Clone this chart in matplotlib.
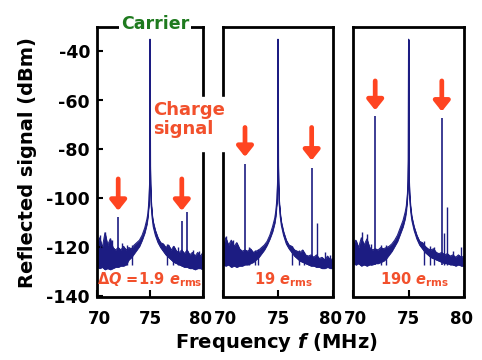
import matplotlib
matplotlib.use("Agg")
import matplotlib.pyplot as plt
from matplotlib.patches import Rectangle
from matplotlib.transforms import ScaledTranslation

plt.rcParams['font.family'] = ['DejaVu Sans']
plt.rcParams['font.weight'] = 'bold'
plt.rcParams['mathtext.fontset'] = 'custom'
plt.rcParams['mathtext.rm'] = 'DejaVu Sans:bold'
plt.rcParams['mathtext.bf'] = 'DejaVu Sans:bold'
plt.rcParams['mathtext.it'] = 'DejaVu Sans:italic:bold'

# ---------------- data ----------------
freq = [70.0, 70.25, 70.5, 70.75, 71.0, 71.25, 71.5, 71.75, 72.0, 72.25, 72.5, 72.75,
        73.0, 73.25, 73.5, 73.75, 74.0, 74.25, 74.5, 74.7, 74.8, 74.9, 74.95, 74.98,
        75.0, 75.02, 75.05, 75.1, 75.2, 75.3, 75.5, 75.75, 76.0, 76.25, 76.5, 76.75,
        77.0, 77.25, 77.5, 77.75, 78.0, 78.25, 78.5, 78.75, 79.0, 79.25, 79.5, 79.75, 80.0]

upper1 = [-119, -116, -120, -114, -119, -116.5, -120, -121, -120, -121, -119.5, -121,
          -120, -120.5, -119, -118, -117, -115, -112, -108.5, -106, -100.5, -94.5, -86.5,
          -35, -86.5, -94.5, -100.5, -106.5, -109.5, -113, -116, -118, -118.5, -120, -119,
          -121, -119.5, -121.5, -122, -121, -122.5, -121, -123, -122, -123.5, -122, -123.5, -122]
lower1 = [-128, -128.5, -128, -129, -128.5, -129, -128.5, -128, -128, -127.5, -127.5, -127,
          -125, -124, -122.5, -121, -119.5, -117, -114, -110.5, -107.5, -102, -96, -88,
          -35, -88, -96, -102.5, -108, -111.5, -115, -118, -120, -121.5, -123, -124,
          -125, -126, -126.5, -127, -127.5, -128, -128, -128.5, -128.5, -129, -128.5, -128.5, -129]

upper2 = [-120, -116, -119, -117, -119.5, -118, -120.5, -121.5, -121, -121.5, -120.5, -122,
          -121.5, -121, -120, -119, -117.5, -115, -111.5, -108, -105, -100, -94, -86,
          -35, -86, -94, -100.5, -106, -109.5, -113.5, -117, -119, -119.5, -121, -121.5,
          -122, -121, -123, -123.5, -123, -124, -123, -124.5, -124, -125, -123.5, -125, -124.5]
lower2 = [-127, -127.5, -127, -128, -127.5, -128, -127.5, -127.5, -127, -127, -126.5, -126,
          -125, -124, -122.5, -121, -119, -116.5, -113.5, -110, -107, -101.5, -95.5, -87.5,
          -35, -87.5, -95.5, -102, -107.5, -111, -115, -118.5, -120.5, -122, -123.5, -124.5,
          -125.5, -126, -126.5, -127, -127.5, -127.5, -128, -128, -128.5, -128.5, -128, -128.5, -128.5]

upper3 = [-119, -117, -120, -116, -119, -116.5, -120, -121, -120.5, -121, -120, -120.5,
          -120, -119.5, -118.5, -117, -115, -112, -109, -105.5, -103, -98, -92, -84,
          -35, -84, -92, -98.5, -104, -107.5, -111.5, -115, -117.5, -118, -119.5, -120.5,
          -121, -120.5, -122, -122.5, -122, -123, -122.5, -123.5, -123, -124, -123, -124, -123.5]
lower3 = [-126.5, -127, -126.5, -127.5, -127, -127.5, -127, -127, -126.5, -126.5, -126, -125.5,
          -124.5, -123, -121.5, -119.5, -117.5, -114.5, -111.5, -108, -105, -99.5, -93.5, -85.5,
          -35, -85.5, -93.5, -100, -105.5, -109, -113, -116.5, -119, -120.5, -122, -123,
          -124, -124.5, -125, -125.5, -126, -126.5, -126.5, -127, -127, -127.5, -127, -127.5, -127.5]

# small noise spikes (freq, top dBm)
spike_f1 = [70.3, 70.75, 71.2, 71.45, 72.4, 72.8, 73.3, 76.6, 77.2, 77.6, 79.1, 79.6]
spike_t1 = [-115, -113.5, -116, -117, -118, -119, -119, -118.5, -119.5, -120, -121, -121.5]
spike_f2 = [70.3, 70.95, 71.4, 72.4, 72.9, 73.2, 76.25, 76.9, 77.4, 78.5, 79.3, 79.7]
spike_t2 = [-115.5, -117, -119.5, -120, -121, -120.5, -119.5, -121, -122, -110, -122, -123]
spike_f3 = [70.3, 70.78, 71.23, 71.6, 72.5, 73.0, 76.37, 76.9, 77.3, 78.2, 78.44, 79.0, 79.7]
spike_t3 = [-117.5, -113.5, -114.5, -118.5, -119, -119, -117.5, -119.5, -120, -114, -103.5, -121.5, -120]

# charge-signal sidebands (freq, top dBm)
side_f1 = [72.0, 78.05, 78.5]
side_t1 = [-107.5, -109, -105.5]
side_f2 = [72.0, 78.06]
side_t2 = [-86, -87.5]
side_f3 = [72.0, 78.0]
side_t3 = [-66.5, -67.3]

labels = [r'$\mathit{\Delta Q}$ =1.9 $\mathit{e}_{\mathrm{rms}}$',
          r'19 $\mathit{e}_{\mathrm{rms}}$',
          r'190 $\mathit{e}_{\mathrm{rms}}$']

# arrows: (freq, tail, tip)
arrows1 = [(72.0, -92, -105), (78.0, -92, -105)]
arrows2 = [(72.0, -71, -83), (78.06, -71, -84.5)]
arrows3 = [(72.0, -52, -64), (78.0, -52, -64.5)]

yticks = [-40, -60, -80, -100, -120, -140]
xticks = [70, 75, 80]

# ---------------- drawing ----------------
navy = '#1c1c82'
red = '#ff4420'
txtred = '#f2502c'
green = '#1e7a1e'

W, H = 482, 360
fig = plt.figure(figsize=(W / 100, H / 100), dpi=100)
bottom = 1 - 296.5 / H
height = (296.5 - 27) / H
lefts = [97, 223, 353]
widths = [106, 110, 111]

panels = [
    (upper1, lower1, spike_f1, spike_t1, side_f1, side_t1, arrows1, 75.0),
    (upper2, lower2, spike_f2, spike_t2, side_f2, side_t2, arrows2, 75.45),
    (upper3, lower3, spike_f3, spike_t3, side_f3, side_t3, arrows3, 75.5),
]

for i, (up, lo, sf, st, bf, bt, arr, lx) in enumerate(panels):
    ax = fig.add_axes([lefts[i] / W, bottom, widths[i] / W, height])
    ax.fill_between(freq, lo, up, color=navy, lw=0.5)
    ax.plot(freq, up, color=navy, lw=0.7)
    ax.plot(freq, lo, color=navy, lw=0.7)
    ax.vlines(sf, -127, st, color=navy, lw=1.0)
    ax.vlines(bf, -127, bt, color=navy, lw=1.2)
    for (f, t0, t1) in arr:
        ax.annotate('', xy=(f, t1), xytext=(f, t0),
                    arrowprops=dict(arrowstyle='-|>,head_width=0.24,head_length=0.3',
                                    color=red, lw=3.4, mutation_scale=20,
                                    shrinkA=0, shrinkB=0))
    ax.text(lx, -133.3, labels[i], color=txtred, fontsize=10.5, ha='center', va='center')
    ax.set_xlim(70, 80)
    ax.set_ylim(-140, -30)
    for s in ax.spines.values():
        s.set_linewidth(2)
    ax.set_xticks(xticks)
    ax.set_xticklabels([str(v) for v in xticks], fontsize=12, fontweight='bold')
    ax.tick_params(axis='x', direction='in', length=5, width=1.5, pad=10)
    tl = ax.get_xticklabels()
    tl[0].set_transform(tl[0].get_transform() + ScaledTranslation(2 / 100, 0, fig.dpi_scale_trans))
    tl[2].set_transform(tl[2].get_transform() + ScaledTranslation(-2.5 / 100, 0, fig.dpi_scale_trans))
    if i == 0:
        ax.set_yticks(yticks)
        ax.set_yticklabels([str(v) for v in yticks], fontsize=12.5, fontweight='bold')
        ax.tick_params(axis='y', direction='in', length=4, width=1.5, pad=5)
    else:
        ax.set_yticks([])

# white patch breaking the spines behind "Charge signal"
fig.add_artist(Rectangle((199 / W, 1 - 151 / H), 29 / W, 54 / H,
                         transform=fig.transFigure, color='white', zorder=2))
fig.text(153 / W, 1 - 101 / H, 'Charge\nsignal', color=txtred, fontsize=13,
         fontweight='bold', ha='left', va='top', linespacing=1.05, zorder=3)
fig.text(155 / W, 1 - 24 / H, 'Carrier', color=green, fontsize=12.5, fontweight='bold',
         ha='center', va='center', zorder=3,
         bbox=dict(facecolor='white', edgecolor='none', pad=1.5))

fig.text(28 / W, 1 - 163 / H, 'Reflected signal (dBm)', rotation=90, fontsize=14,
         fontweight='bold', ha='center', va='center')
fig.text(276 / W, 1 - 342 / H, r'Frequency $\mathit{f}$ (MHz)', fontsize=14,
         fontweight='bold', ha='center', va='center')

fig.savefig('out.png', dpi=100, facecolor='white')
